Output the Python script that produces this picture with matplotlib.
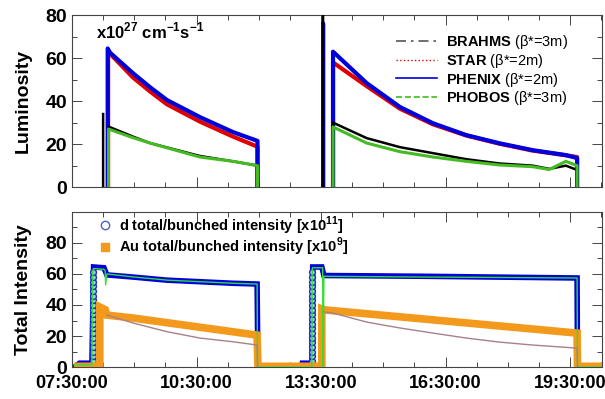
import matplotlib
matplotlib.use("Agg")
import matplotlib.pyplot as plt
import numpy as np
from matplotlib.lines import Line2D
from matplotlib.ticker import MultipleLocator

plt.rcParams['font.family'] = ['Liberation Sans', 'DejaVu Sans']
plt.rcParams['mathtext.fontset'] = 'custom'
plt.rcParams['mathtext.rm'] = 'Liberation Sans'
plt.rcParams['mathtext.bf'] = 'Liberation Sans:bold'

nan = np.nan

# время в часах (07:30 = 7.5)
tick_pos = [7.5, 10.5, 13.5, 16.5, 19.5]
tick_labels = ['07:30:00', '10:30:00', '13:30:00', '16:30:00', '19:30:00']

# --- светимость, x10^27 cm^-1 s^-1 (nan = разрыв между заполнениями) ---
phenix_t = [8.36, 8.36, 8.42, 8.97, 9.38, 9.79, 10.58, 11.38, 11.97, 11.97, nan,
            13.55, 13.55, 13.55, nan, 13.79, 13.79, 14.6, 15.4, 16.2, 17.0, 17.8, 18.6, 19.4, 19.67, 19.67]
phenix_v = [0, 64.5, 62.5, 53, 46.5, 40.5, 32.6, 25.6, 21.5, 0, nan,
            0, 76, 0, nan, 0, 63, 48.4, 37.3, 29.7, 24.2, 20.4, 17.2, 14.9, 13.5, 0]
star_t = [8.37, 8.37, 8.42, 8.97, 9.38, 9.79, 10.58, 11.38, 11.97, 11.97, nan,
          13.79, 13.79, 14.6, 15.4, 16.2, 17.0, 17.8, 18.6, 19.4, 19.67, 19.67]
star_v = [0, 63.5, 62, 51, 44.5, 38.5, 30.5, 23.5, 18.8, 0, nan,
          0, 58, 47, 36.5, 29.2, 24, 20.2, 17, 14.8, 14, 0]
brahms_t = [8.25, 8.25, nan, 8.4, 8.97, 9.38, 10.58, 11.38, 11.97, 11.97, nan,
            13.55, 13.55, nan, 13.79, 13.79, 14.6, 15.4, 16.2, 17.0, 17.8, 18.6, 19.0, 19.4, 19.67, 19.67]
brahms_v = [0, 34, nan, 28, 23.5, 20.5, 14.5, 12, 10, 0, nan,
            0, 82, nan, 0, 30, 22.8, 18.6, 15.8, 13, 11, 10, 8.5, 10, 8, 0]
phobos_t = [8.38, 8.38, 8.97, 9.38, 10.58, 11.38, 11.97, 11.97, nan,
            13.79, 13.79, 14.6, 15.4, 16.2, 17.0, 17.8, 18.6, 19.0, 19.4, 19.67, 19.67]
phobos_v = [0, 27, 23, 20.5, 14, 12, 10, 0, nan,
            0, 28, 20.5, 16.5, 14, 12, 10.3, 9.5, 8.2, 12, 10, 0]

# --- интенсивность ---
d_t = [7.55, 7.68, 7.98, 8.02, 8.27, 8.3, 8.34, 8.97, 9.79, 10.58, 11.38, 11.96, 11.98,
       13.04, 13.05, 13.28, 13.3, 13.52, 13.57, 16.0, 19.67, 19.68]
d_v = [0, 2.5, 2.5, 64.5, 64, 62, 59.4, 58, 56, 55, 54, 53.5, 0.5,
       0.5, 2.5, 2.5, 64.5, 64.5, 59, 58.5, 57.4, 0.5]
d_rise1_t = 8.0
d_rise1_v = [4, 7, 10, 13, 16, 19, 22, 25, 28, 31, 34, 37, 40, 43, 46, 49, 52, 55, 58, 61]
d_rise2_t = 13.29
d_rise2_v = [4, 7, 10, 13, 16, 19, 22, 25, 28, 31, 34, 37, 40, 43, 46, 49, 52, 55, 58, 61]

au_t = [7.55, 8.17, 8.17, 8.3, 8.34, 8.97, 11.96, 11.98, 13.52, 13.52, 13.6, 19.67, 19.68, 20.3]
au_v = [0.5, 0.5, 38.7, 37, 33.5, 31.6, 20.6, 0.5, 0.5, 37.5, 36.8, 21.9, 0.5, 0.5]

dbunch_t = [7.55, 7.98, 8.0, 8.02, 8.27, 8.3, 8.31, 8.34, 9.0, 9.8, 10.6, 11.4, 11.96, 11.97,
            13.28, 13.29, 13.3, 13.54, 13.55, 13.57, 13.6, 14.5, 16.0, 17.5, 19.0, 19.67, 19.68, 20.3]
dbunch_v = [1.5, 1.5, 62, 63.5, 63, 62, 53, 60, 58, 56, 55, 54, 53.5, 0,
            0, 63.5, 64, 64, 0, 58.5, 58.5, 58.3, 58, 57.8, 57.5, 57.4, 0, 0]

aubunch_t = [8.34, 8.97, 9.79, 10.58, 11.38, 11.96, 11.97, nan,
             13.57, 13.79, 14.6, 15.4, 16.2, 17.0, 17.8, 18.6, 19.67, 19.68]
aubunch_v = [33.5, 28.4, 22.8, 18.7, 16.3, 14.2, 0, nan,
             35.5, 34.8, 29, 25.2, 21.9, 18.7, 16.1, 14.2, 12.2, 0]

fig = plt.figure(figsize=(6.05, 3.99), dpi=100)
ax1 = fig.add_axes([0.119, 0.531, 0.876, 0.431])
ax2 = fig.add_axes([0.119, 0.080, 0.876, 0.389])

blue = '#0000dd'
red = '#e00000'
green = '#44bb22'

ax1.plot(brahms_t, brahms_v, color='black', lw=1.8, zorder=3)
ax1.plot(star_t, star_v, color=red, lw=3, zorder=2)
ax1.plot(phenix_t, phenix_v, color=blue, lw=3, zorder=2)
ax1.plot(phobos_t, phobos_v, color=green, lw=2.2, zorder=3)

handles = [Line2D([], [], color='#555555', lw=1.2, ls=(0, (6, 3, 1.5, 3))),
           Line2D([], [], color=red, lw=1.0, ls=':'),
           Line2D([], [], color=blue, lw=1.2, ls='-'),
           Line2D([], [], color=green, lw=1.2, ls='--')]
labels = [r'$\mathbf{BRAHMS}$ (β*=3m)', r'$\mathbf{STAR}$ (β*=2m)',
          r'$\mathbf{PHENIX}$ (β*=2m)', r'$\mathbf{PHOBOS}$ (β*=3m)']
ax1.legend(handles, labels, loc='upper right', bbox_to_anchor=(0.955, 0.955), frameon=False,
           fontsize=10.5, handlelength=2.8, handletextpad=0.6, labelspacing=0.05,
           borderpad=0.2)
ax1.text(0.045, 0.97, r'x10$^{\mathbf{27}}$ cm$^{\mathbf{-1}}$s$^{\mathbf{-1}}$',
         transform=ax1.transAxes, fontsize=12, fontweight='bold', va='top', ha='left')

ax2.plot(d_t, d_v, color=blue, lw=4, solid_joinstyle='miter', zorder=2)
ax2.plot([d_rise1_t] * len(d_rise1_v), d_rise1_v, ls='none', marker='o', ms=4.2,
         mfc='#9ad0d8', mec='#2030c0', mew=1.0, zorder=3)
ax2.plot([d_rise2_t] * len(d_rise2_v), d_rise2_v, ls='none', marker='o', ms=4.2,
         mfc='#9ad0d8', mec='#2030c0', mew=1.0, zorder=3)
ax2.plot(au_t, au_v, color='#f39a1c', lw=5.5, solid_joinstyle='miter',
         solid_capstyle='butt', zorder=3)
ax2.plot(dbunch_t, dbunch_v, color='#33dd33', lw=1.0, zorder=4)
ax2.plot(aubunch_t, aubunch_v, color='#a88088', lw=1.0, zorder=4)

h2 = [Line2D([], [], ls='none', marker='o', ms=6, mfc='none', mec='#5060c0', mew=1.0),
      Line2D([], [], ls='none', marker='s', ms=6, color='#f39a1c')]
l2 = [r'd total/bunched intensity [x10$^{\mathbf{11}}$]',
      r'Au total/bunched intensity [x10$^{\mathbf{9}}$]']
ax2.legend(h2, l2, loc='upper left', bbox_to_anchor=(0.03, 1.06), frameon=False,
           prop={'size': 10.5, 'weight': 'bold'}, handlelength=0.8, handletextpad=0.5,
           labelspacing=-0.05, borderpad=0.3)

for ax in (ax1, ax2):
    ax.set_xlim(7.5, 20.27)
    ax.set_xticks(tick_pos)
    ax.xaxis.set_minor_locator(MultipleLocator(0.75))
    ax.yaxis.set_minor_locator(MultipleLocator(10))
    ax.tick_params(which='both', direction='in', top=True, right=True, width=0.7, colors='#444444',
                   labelcolor='black', labelsize=13)
    ax.tick_params(which='major', length=7)
    ax.tick_params(which='minor', length=3.5)
    for s in ax.spines.values():
        s.set_color('#444444')
        s.set_linewidth(0.8)

ax1.set_xticklabels([])
ax1.set_ylim(0, 80)
ax1.set_yticks([0, 20, 40, 60, 80])
ax1.set_yticklabels(['0', '20', '40', '60', '80'], fontweight='bold', fontsize=14)
ax1.set_ylabel('Luminosity', fontsize=14, fontweight='bold', labelpad=10)

ax2.set_ylim(0, 100)
ax2.set_yticks([0, 20, 40, 60, 80])
ax2.set_yticklabels(['0', '20', '40', '60', '80'], fontweight='bold', fontsize=14)
ax2.set_xticklabels(tick_labels, fontweight='bold')
ax2.tick_params(axis='x', which='major', pad=6)
ax2.set_ylabel('Total Intensity', fontsize=14, fontweight='bold', labelpad=10)

fig.savefig('out.png', dpi=100)
